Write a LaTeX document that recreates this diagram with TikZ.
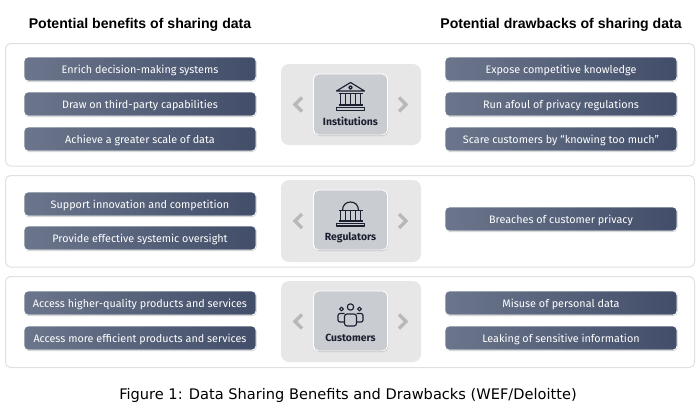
\documentclass[tikz,border=0pt]{standalone}
\usepackage{fontspec}
\setmainfont{Fira Sans}
\newfontfamily\capfont{DejaVu Sans}
\newfontfamily\headfont{Liberation Sans}
\usetikzlibrary{shadows}
\definecolor{pillL}{HTML}{6B768C}
\definecolor{pillR}{HTML}{424E69}
\definecolor{ink}{HTML}{1B2030}
\definecolor{cardfill}{HTML}{C9CCD1}
\definecolor{trayfill}{HTML}{E7E7E7}
\tikzset{
 panel/.style={draw=black!12,line width=1pt,fill=white,rounded corners=5pt},
 pill/.style={draw=white,line width=.8pt,left color=pillL,right color=pillR,rounded corners=4pt,
   minimum width=232pt,minimum height=24pt,inner sep=0pt,text=white,text height=8pt,text depth=0pt,font=\fontsize{10.8}{12}\selectfont,
   drop shadow={shadow xshift=0.5pt,shadow yshift=-1pt,fill=black,opacity=.18}},
 tray/.style={fill=trayfill,rounded corners=8pt},
 card/.style={draw=white,line width=.9pt,fill=cardfill,rounded corners=5pt,
   drop shadow={shadow xshift=0.5pt,shadow yshift=-1pt,fill=black,opacity=.2}},
 chev/.style={draw=black!28,line width=3.4pt,line join=miter},
 role/.style={text=ink,font=\bfseries\fontsize{10.4}{12}\selectfont,inner sep=0pt},
 head/.style={text=black,font=\headfont\bfseries\fontsize{14.1}{16}\selectfont,inner sep=0pt},
 ico/.style={draw=ink,line width=1.15pt,line join=round,fill=none}
}
\begin{document}
\begin{tikzpicture}[x=1pt,y=-1pt]
\useasboundingbox (0,0) rectangle (700,410);
\fill[white] (0,0) rectangle (700,410);
\node[head] (h1) at (140,24.5) {Potential benefits of sharing data};
\node[head] (h2) at (561,24.5) {Potential drawbacks of sharing data};
% panels
\draw[panel] (5.5,43.5) rectangle (694.5,166);
\draw[panel] (5.5,175.5) rectangle (694.5,267);
\draw[panel] (5.5,276.5) rectangle (694.5,367.5);
% pills left
\node[pill] (a1) at (140,69) {Enrich decision-making systems};
\node[pill] (a2) at (140,104) {Draw on third-party capabilities};
\node[pill] (a3) at (140,139) {Achieve a greater scale of data};
\node[pill] (a4) at (140,204) {Support innovation and competition};
\node[pill] (a5) at (140,238) {Provide effective systemic oversight};
\node[pill] (a6) at (140,303) {Access higher-quality products and services};
\node[pill] (a7) at (140,338) {Access more efficient products and services};
% pills right
\node[pill] (b1) at (561,69) {Expose competitive knowledge};
\node[pill] (b2) at (561,104) {Run afoul of privacy regulations};
\node[pill] (b3) at (561,139) {Scare customers by “knowing too much”};
\node[pill] (b4) at (561,219) {Breaches of customer privacy};
\node[pill] (b5) at (561,303) {Misuse of personal data};
\node[pill] (b6) at (561,338) {Leaking of sensitive information};
% trays, cards, chevrons
\foreach \t/\b/\ct/\cb in {64/145/74/135,180/262/190/250,281/362/291/351}{
 \fill[tray] (281,\t) rectangle (421,\b);
 \draw[card] (313.5,\ct) rectangle (387.5,\cb);
 \pgfmathsetmacro\m{(\t+\b)/2}
 \draw[chev] (302,\m-7) -- (295,\m) -- (302,\m+7);
 \draw[chev] (399,\m-7) -- (406,\m) -- (399,\m+7);
}
\node[role] (r1) at (350.5,121) {Institutions};
\node[role] (r2) at (350.5,237.5) {Regulators};
\node[role] (r3) at (350.5,338) {Customers};
% institutions icon
\begin{scope}[shift={(350.5,97)}]
 \draw[ico] (-14,-6) -- (0,-14.5) -- (14,-6) -- cycle;
 \draw[ico] (0,-9.5) circle (1.7);
 \draw[ico] (-12,-3.5) -- (12,-3.5);
 \foreach \x in {-10,-5,0,5,10}{\draw[ico] (\x,-3.5) -- (\x,8);}
 \draw[ico] (-12,8) -- (12,8);
 \draw[ico] (-14,10.5) rectangle (14,13.5);
\end{scope}
% regulators icon
\begin{scope}[shift={(350.5,214)}]
 \draw[ico] (-8,-3.5) .. controls (-8,-9) and (-4.5,-12) .. (0,-12) .. controls (4.5,-12) and (8,-9) .. (8,-3.5);
 \draw[ico] (-12,-3.5) -- (12,-3.5);
 \foreach \x in {-10,-5,0,5,10}{\draw[ico] (\x,-3.5) -- (\x,7);}
 \draw[ico] (-12,7) -- (12,7);
 \draw[ico] (-14,9.5) rectangle (14,12);
\end{scope}
% customers icon
\begin{scope}[shift={(350.5,315)}]
 \draw[ico] (0,-8) circle (3.2);
 \draw[ico] (-9,-6) circle (1.9);
 \draw[ico] (9,-6) circle (1.9);
 \draw[ico,rounded corners=2.5pt] (-6,11) -- (-6,-1) -- (6,-1) -- (6,11) -- cycle;
 \draw[ico,rounded corners=2pt] (-6,-1.5) -- (-12.5,-1.5) -- (-12.5,7) -- (-6,7);
 \draw[ico,rounded corners=2pt] (6,-1.5) -- (12.5,-1.5) -- (12.5,7) -- (6,7);
\end{scope}
\node[inner sep=0pt,text=black,font=\capfont\fontsize{14.6}{17}\selectfont] (cap) at (348,395) {Figure 1: Data Sharing Benefits and Drawbacks (WEF/Deloitte)};
\end{tikzpicture}
\end{document}
